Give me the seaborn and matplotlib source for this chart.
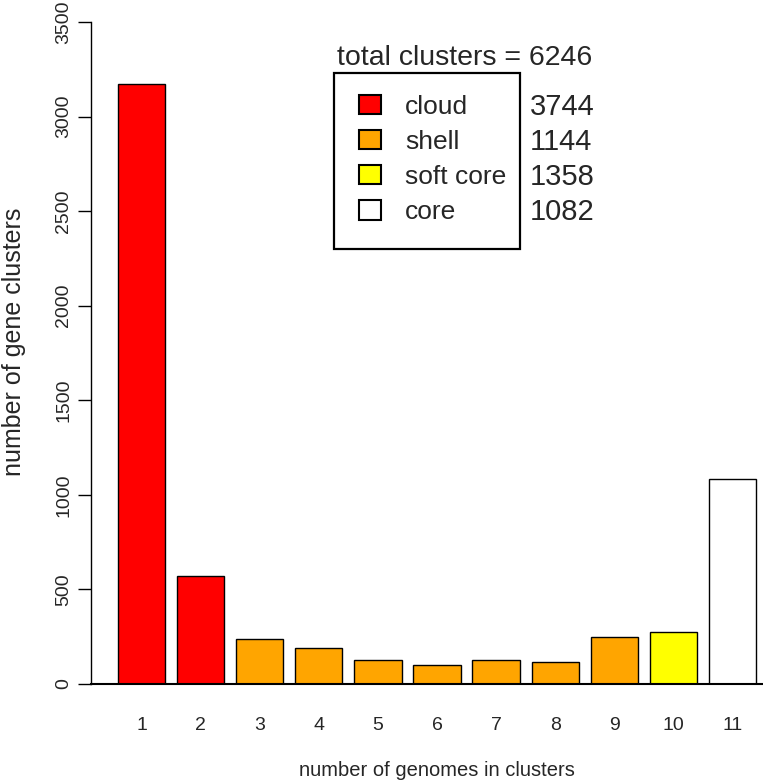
import matplotlib
matplotlib.use("Agg")
import matplotlib.pyplot as plt
import seaborn as sns
import pandas as pd
from matplotlib.patches import Patch, Rectangle

# ---- data ----
genomes = ["1", "2", "3", "4", "5", "6", "7", "8", "9", "10", "11"]
counts = [3174, 570, 240, 188, 127, 100, 126, 117, 246, 276, 1082]
bar_class = ["cloud", "cloud", "shell", "shell", "shell", "shell", "shell",
             "shell", "shell", "soft core", "core"]
class_names = ["cloud", "shell", "soft core", "core"]
class_colors = ["#FF0000", "#FFA500", "#FFFF00", "#FFFFFF"]
class_totals = [3744, 1144, 1358, 1082]
total_clusters = 6246
y_ticks = [0, 500, 1000, 1500, 2000, 2500, 3000, 3500]

df = pd.DataFrame({"genomes": genomes, "count": counts, "class": bar_class})

sns.set_style("ticks")
plt.rcParams["font.family"] = ["Liberation Sans", "DejaVu Sans"]

W, H = 763, 783
fig = plt.figure(figsize=(W / 100, H / 100), dpi=100)
ax_top, ax_bot = 22, 684
ax = fig.add_axes([91 / W, (H - ax_bot) / H, 672 / W, (ax_bot - ax_top) / H])

sns.barplot(data=df, x="genomes", y="count", hue="class",
            palette=dict(zip(class_names, class_colors)), dodge=False,
            width=0.8, edgecolor="black", linewidth=1.0, saturation=1,
            legend=False, ax=ax)

ax.set_xlim(-0.854, 10.516)
ax.set_ylim(0, 3500)
ax.set_yticks(y_ticks)
ax.set_yticklabels([str(v) for v in y_ticks], rotation=90, va="center",
                   fontsize=14)
ax.tick_params(axis="y", length=9.4, width=1.0, pad=4, color="black")
ax.tick_params(axis="x", length=0, pad=23.5)
for lab in ax.get_xticklabels():
    lab.set_fontsize(14)

sns.despine(ax=ax)
ax.spines["left"].set_linewidth(1.0)
ax.spines["bottom"].set_linewidth(1.5)
ax.spines["left"].set_color("black")
ax.spines["bottom"].set_color("black")

ax.set_xlabel("number of genomes in clusters", fontsize=14.5)
ax.xaxis.label.set_va("center")
ax.xaxis.set_label_coords((437 - 91) / 672, -(770 - ax_bot) / (ax_bot - ax_top))
ax.set_ylabel("number of gene clusters", fontsize=18)
ax.yaxis.label.set_va("center")
ax.yaxis.set_label_coords(-(91 - 14) / 672, (ax_bot - 342) / (ax_bot - ax_top))

handles = [Patch(facecolor=c, edgecolor="black", linewidth=1.5)
           for c in class_colors]
leg = ax.legend(handles, class_names, loc="upper left",
                bbox_to_anchor=(334 / W, 1 - 70 / H),
                bbox_transform=fig.transFigure, borderaxespad=0,
                fontsize=19, frameon=False, borderpad=0.94,
                labelspacing=0.42, handlelength=0.85, handleheight=0.75,
                handletextpad=0.9)

# legend box (as in the reference, tighter on the right side)
fig.add_artist(Rectangle((334 / W, 1 - 249 / H), (520 - 334) / W,
                         (249 - 73) / H, transform=fig.transFigure,
                         fill=False, edgecolor="black", linewidth=1.6))

fig.text(465 / W, 1 - 58 / H, f"total clusters = {total_clusters}",
         ha="center", va="center", fontsize=20.5)

fig.canvas.draw()
for t, n in zip(leg.get_texts(), class_totals):
    bb = t.get_window_extent()
    yc = (bb.y0 + bb.y1) / 2
    fig.text(530 / W, yc / H, str(n), ha="left", va="center", fontsize=21)

fig.savefig("out.png", dpi=100)
